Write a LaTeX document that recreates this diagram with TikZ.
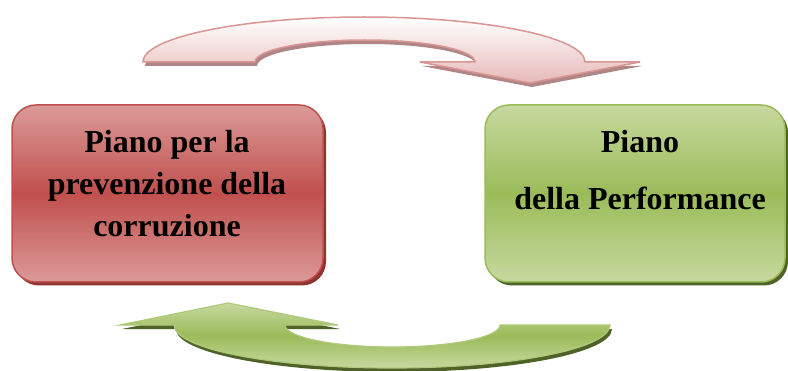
\documentclass[tikz,border=0pt]{standalone}
\usepackage{fontspec}
\setmainfont{Liberation Serif}
\usetikzlibrary{shadows}
\definecolor{redmid}{HTML}{C0504D}
\definecolor{redlight}{HTML}{DB9A98}
\definecolor{redshadow}{HTML}{8E3532}
\definecolor{greenmid}{HTML}{9BBB59}
\definecolor{greenlight}{HTML}{C6D99F}
\definecolor{greenshadow}{HTML}{4F6228}
\definecolor{pinkline}{HTML}{D99594}
\definecolor{pinkfill}{HTML}{E6B9B8}
\definecolor{pinkshadow}{HTML}{B08585}
\begin{document}
\begin{tikzpicture}[x=1pt,y=1pt,
  box/.style={rounded corners=24pt, line width=1.5pt, minimum height=177pt, inner sep=0pt},
  redbox/.style={box, draw=redmid, top color=redlight, bottom color=redlight, middle color=redmid,
    drop shadow={fill=redshadow, opacity=1, shadow xshift=3pt, shadow yshift=-3.5pt}},
  greenbox/.style={box, draw=greenmid, top color=greenlight, bottom color=greenlight, middle color=greenmid,
    drop shadow={fill=greenshadow, opacity=1, shadow xshift=3pt, shadow yshift=-3.5pt}},
  boxtext/.style={font=\fontsize{32}{42}\selectfont\bfseries, anchor=base, inner sep=0pt, text=black},
  toparrow/.style={line width=1.5pt, draw=pinkline, top color=white, bottom color=pinkfill,
    drop shadow={fill=pinkshadow, opacity=1, shadow xshift=2pt, shadow yshift=-4pt}},
  botarrow/.style={line width=1.2pt, draw=greenmid!80!white, top color=greenlight, bottom color=greenlight, middle color=greenmid,
    drop shadow={fill=greenshadow, opacity=1, shadow xshift=2pt, shadow yshift=-4pt}}
]
\useasboundingbox (0,0) rectangle (788,370);

% top arrow (left box -> right box)
\path[toparrow] (143,308) arc[start angle=180, end angle=0, x radius=221, y radius=45]
  -- (640,308) -- (530,287) -- (420,308) -- (475,308)
  arc[start angle=0, end angle=180, x radius=110, y radius=22] -- cycle;

% bottom arrow (right box -> left box)
\path[botarrow] (610,45) arc[start angle=0, end angle=-180, x radius=218, y radius=43]
  -- (120,45) -- (228,67) -- (338,45) -- (285,45)
  arc[start angle=180, end angle=360, x radius=107.5, y radius=22] -- cycle;

% boxes
\node[redbox, minimum width=311pt] (L) at (167.5,176.5) {};
\node[greenbox, minimum width=300pt] (R) at (635,176.5) {};

% texts
\node[boxtext] (l1) at (167,217) {Piano per la};
\node[boxtext] (l2) at (167,175) {prevenzione della};
\node[boxtext] (l3) at (167,133) {corruzione};
\node[boxtext] (r1) at (640,217) {Piano};
\node[boxtext] (r2) at (640,160) {della Performance};
\end{tikzpicture}
\end{document}
